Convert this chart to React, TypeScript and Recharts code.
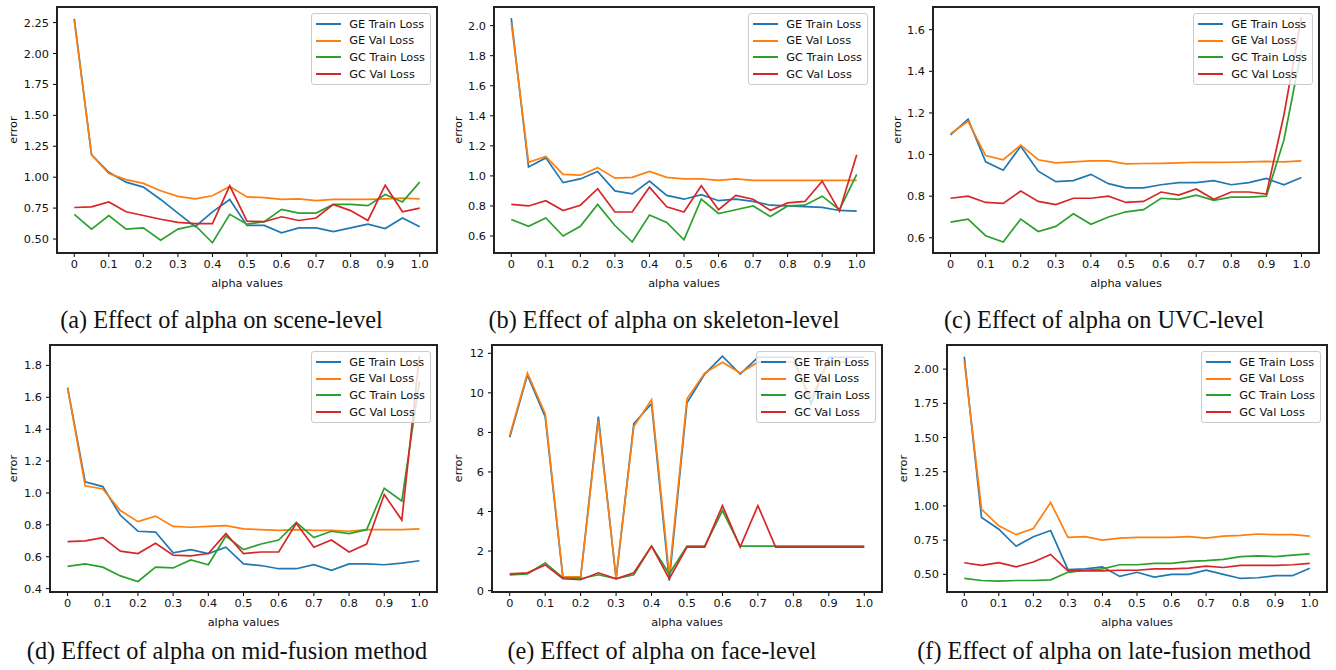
import { LineChart, Line, XAxis, YAxis, Legend } from 'recharts';

const alpha = [0, 0.05, 0.1, 0.15, 0.2, 0.25, 0.3, 0.35, 0.4, 0.45, 0.5, 0.55, 0.6, 0.65, 0.7, 0.75, 0.8, 0.85, 0.9, 0.95, 1.0];
const xTicks = [0, 0.1, 0.2, 0.3, 0.4, 0.5, 0.6, 0.7, 0.8, 0.9, 1.0];
const seriesNames = ['GE Train Loss', 'GE Val Loss', 'GC Train Loss', 'GC Val Loss'];
const seriesColors = ['#1f77b4', '#ff7f0e', '#2ca02c', '#d62728'];

// (a) scene-level
const sceneGeTrain = [2.28, 1.18, 1.04, 0.96, 0.92, 0.82, 0.71, 0.6, 0.72, 0.82, 0.61, 0.61, 0.55, 0.59, 0.59, 0.56, 0.59, 0.62, 0.585, 0.67, 0.6];
const sceneGeVal = [2.27, 1.18, 1.03, 0.98, 0.95, 0.89, 0.845, 0.825, 0.85, 0.925, 0.84, 0.835, 0.82, 0.825, 0.81, 0.82, 0.82, 0.82, 0.825, 0.83, 0.825];
const sceneGcTrain = [0.7, 0.58, 0.69, 0.58, 0.59, 0.49, 0.58, 0.61, 0.47, 0.7, 0.62, 0.64, 0.74, 0.71, 0.71, 0.78, 0.78, 0.77, 0.86, 0.8, 0.96];
const sceneGcVal = [0.755, 0.76, 0.8, 0.72, 0.69, 0.66, 0.635, 0.625, 0.625, 0.93, 0.645, 0.64, 0.68, 0.65, 0.67, 0.78, 0.73, 0.65, 0.935, 0.72, 0.75];
const sceneTicks = [0.5, 0.75, 1.0, 1.25, 1.5, 1.75, 2.0, 2.25];

// (b) skeleton-level
const skelGeTrain = [2.05, 1.06, 1.12, 0.955, 0.98, 1.03, 0.9, 0.88, 0.965, 0.87, 0.845, 0.875, 0.835, 0.845, 0.83, 0.805, 0.8, 0.795, 0.79, 0.77, 0.765];
const skelGeVal = [2.02, 1.09, 1.13, 1.01, 1.005, 1.055, 0.985, 0.99, 1.03, 0.99, 0.98, 0.98, 0.97, 0.98, 0.97, 0.97, 0.97, 0.97, 0.97, 0.97, 0.97];
const skelGcTrain = [0.71, 0.665, 0.72, 0.6, 0.665, 0.81, 0.67, 0.56, 0.74, 0.69, 0.575, 0.845, 0.75, 0.775, 0.8, 0.73, 0.8, 0.805, 0.865, 0.775, 1.01];
const skelGcVal = [0.81, 0.8, 0.835, 0.77, 0.805, 0.915, 0.76, 0.76, 0.925, 0.795, 0.76, 0.935, 0.775, 0.87, 0.845, 0.77, 0.82, 0.83, 0.965, 0.765, 1.14];
const skelTicks = [0.6, 0.8, 1.0, 1.2, 1.4, 1.6, 1.8, 2.0];

// (c) UVC-level
const uvcGeTrain = [1.095, 1.17, 0.965, 0.925, 1.04, 0.92, 0.87, 0.875, 0.905, 0.86, 0.84, 0.84, 0.855, 0.865, 0.865, 0.875, 0.855, 0.865, 0.885, 0.855, 0.89];
const uvcGeVal = [1.1, 1.16, 0.995, 0.975, 1.045, 0.975, 0.96, 0.965, 0.97, 0.97, 0.955, 0.957, 0.958, 0.96, 0.963, 0.962, 0.963, 0.965, 0.967, 0.965, 0.97];
const uvcGcTrain = [0.675, 0.69, 0.61, 0.58, 0.69, 0.63, 0.655, 0.715, 0.665, 0.7, 0.725, 0.735, 0.79, 0.785, 0.805, 0.78, 0.795, 0.795, 0.8, 1.07, 1.5];
const uvcGcVal = [0.79, 0.8, 0.77, 0.765, 0.825, 0.775, 0.76, 0.79, 0.79, 0.8, 0.77, 0.775, 0.82, 0.805, 0.835, 0.785, 0.82, 0.82, 0.81, 1.19, 1.66];
const uvcTicks = [0.6, 0.8, 1.0, 1.2, 1.4, 1.6];

// (d) mid-fusion
const midGeTrain = [1.66, 1.07, 1.04, 0.86, 0.76, 0.755, 0.625, 0.645, 0.62, 0.66, 0.555, 0.545, 0.525, 0.525, 0.55, 0.515, 0.555, 0.555, 0.55, 0.56, 0.575];
const midGeVal = [1.66, 1.045, 1.025, 0.89, 0.82, 0.855, 0.79, 0.785, 0.79, 0.795, 0.775, 0.77, 0.765, 0.77, 0.765, 0.765, 0.76, 0.77, 0.77, 0.77, 0.775];
const midGcTrain = [0.54, 0.555, 0.535, 0.48, 0.445, 0.535, 0.53, 0.58, 0.55, 0.73, 0.645, 0.68, 0.705, 0.815, 0.72, 0.76, 0.745, 0.77, 1.03, 0.95, 1.7];
const midGcVal = [0.695, 0.7, 0.72, 0.635, 0.62, 0.685, 0.61, 0.605, 0.62, 0.745, 0.62, 0.63, 0.63, 0.81, 0.66, 0.705, 0.63, 0.68, 0.99, 0.83, 1.86];
const midTicks = [0.4, 0.6, 0.8, 1.0, 1.2, 1.4, 1.6, 1.8];

// (e) face-level
const faceGeTrain = [7.75, 10.9, 8.8, 0.65, 0.65, 8.8, 0.6, 8.45, 9.45, 0.5, 9.5, 10.95, 11.85, 10.95, 11.8, 11.8, 11.8, 9.45, 11.8, 11.8, 11.8];
const faceGeVal = [7.85, 11.0, 8.95, 0.7, 0.7, 8.6, 0.65, 8.3, 9.65, 0.8, 9.7, 11.0, 11.55, 11.0, 11.55, 11.55, 11.55, 9.75, 11.55, 11.55, 11.55];
const faceGcTrain = [0.8, 0.85, 1.4, 0.65, 0.6, 0.8, 0.6, 0.8, 2.25, 0.85, 2.25, 2.25, 4.05, 2.25, 2.25, 2.25, 2.25, 2.25, 2.25, 2.25, 2.25];
const faceGcVal = [0.85, 0.9, 1.3, 0.6, 0.55, 0.9, 0.6, 0.9, 2.25, 0.6, 2.2, 2.2, 4.3, 2.2, 4.3, 2.2, 2.2, 2.2, 2.2, 2.2, 2.2];
const faceTicks = [0, 2, 4, 6, 8, 10, 12];

// (f) late-fusion
const lateGeTrain = [2.09, 0.915, 0.83, 0.705, 0.775, 0.82, 0.535, 0.54, 0.555, 0.485, 0.515, 0.48, 0.5, 0.5, 0.53, 0.5, 0.47, 0.475, 0.49, 0.49, 0.545];
const lateGeVal = [2.06, 0.975, 0.855, 0.79, 0.835, 1.025, 0.77, 0.775, 0.75, 0.765, 0.77, 0.77, 0.77, 0.775, 0.765, 0.78, 0.785, 0.795, 0.79, 0.79, 0.78];
const lateGcTrain = [0.47, 0.455, 0.45, 0.455, 0.455, 0.46, 0.515, 0.53, 0.54, 0.57, 0.57, 0.58, 0.58, 0.595, 0.6, 0.61, 0.63, 0.635, 0.63, 0.64, 0.65];
const lateGcVal = [0.585, 0.565, 0.585, 0.555, 0.59, 0.645, 0.525, 0.525, 0.525, 0.53, 0.53, 0.54, 0.54, 0.545, 0.56, 0.55, 0.565, 0.565, 0.565, 0.57, 0.58];
const lateTicks = [0.5, 0.75, 1.0, 1.25, 1.5, 1.75, 2.0];

const captions = [
  '(a) Effect of alpha on scene-level',
  '(b) Effect of alpha on skeleton-level',
  '(c) Effect of alpha on UVC-level',
  '(d) Effect of alpha on mid-fusion method',
  '(e) Effect of alpha on face-level',
  '(f) Effect of alpha on late-fusion method',
];

const AXW = 50;
const PAD = 2;
const XAH = 40;
const FONT = '"DejaVu Sans", sans-serif';
const XDOMAIN: [number, number] = [-0.05, 1.05];

type PanelDef = {
  series: number[][];
  ticks: number[];
  domain: [number, number];
  digits: number;
  box: [number, number, number, number]; // left, top, right, bottom
  labelOffset: number;
  caption: number; // caption centre x
  captionTop: number;
};

const panels: PanelDef[] = [
  { series: [sceneGeTrain, sceneGeVal, sceneGcTrain, sceneGcVal], ticks: sceneTicks, domain: [0.387, 2.376], digits: 2, box: [57, 7, 437, 253], labelOffset: 6, caption: 221.5, captionTop: 306.5 },
  { series: [skelGeTrain, skelGeVal, skelGcTrain, skelGcVal], ticks: skelTicks, domain: [0.487, 2.124], digits: 1, box: [494, 7, 874, 253], labelOffset: 14, caption: 664, captionTop: 306.5 },
  { series: [uvcGeTrain, uvcGeVal, uvcGcTrain, uvcGcVal], ticks: uvcTicks, domain: [0.527, 1.709], digits: 1, box: [933, 7, 1319, 253], labelOffset: 14, caption: 1104, captionTop: 306.5 },
  { series: [midGeTrain, midGeVal, midGcTrain, midGcVal], ticks: midTicks, domain: [0.379, 1.928], digits: 1, box: [50, 345, 437, 592], labelOffset: 13, caption: 227, captionTop: 637.5 },
  { series: [faceGeTrain, faceGeVal, faceGcTrain, faceGcVal], ticks: faceTicks, domain: [-0.07, 12.42], digits: 0, box: [492, 345, 882, 592], labelOffset: 16, caption: 662, captionTop: 637.5 },
  { series: [lateGeTrain, lateGeVal, lateGcTrain, lateGcVal], ticks: lateTicks, domain: [0.371, 2.176], digits: 2, box: [947, 345, 1327, 592], labelOffset: 6, caption: 1114, captionTop: 637.5 },
];

const keys = ['geTrain', 'geVal', 'gcTrain', 'gcVal'];

const LegendBox = ({ payload }: any) => {
  const items = [...(payload || [])].sort((a: any, b: any) => seriesNames.indexOf(a.value) - seriesNames.indexOf(b.value));
  return (
    <div style={{ border: '1px solid #cccccc', borderRadius: 3, background: 'rgba(255,255,255,0.8)', padding: '2px 5px 2px 4px', fontFamily: FONT, fontSize: 11.3, color: '#111' }}>
      {items.map((p: any) => (
        <div key={p.value} style={{ display: 'flex', alignItems: 'center', height: 16.6, whiteSpace: 'nowrap' }}>
          <span style={{ display: 'inline-block', width: 25, height: 2, background: p.color, marginRight: 8 }} />
          {p.value}
        </div>
      ))}
    </div>
  );
};

function Panel({ p }: { p: PanelDef }) {
  const [left, top, right, bottom] = p.box;
  const w = right - left;
  const h = bottom - top;
  const data = alpha.map((a, i) => ({
    alpha: a,
    geTrain: p.series[0][i],
    geVal: p.series[1][i],
    gcTrain: p.series[2][i],
    gcVal: p.series[3][i],
  }));
  const tickStyle = { fill: '#111', fontSize: 11.3, fontFamily: FONT };
  return (
    <div style={{ position: 'absolute', left: left - AXW, top: top - PAD, width: AXW + w + PAD, height: h + PAD + XAH }}>
      <LineChart width={AXW + w + PAD} height={h + PAD + XAH} data={data} margin={{ top: PAD, right: PAD, bottom: 0, left: 0 }}>
        <XAxis
          type="number"
          dataKey="alpha"
          domain={XDOMAIN}
          ticks={xTicks}
          interval={0}
          tickFormatter={(v: number) => (v === 0 ? '0' : v.toFixed(1))}
          height={XAH}
          axisLine={false}
          tickSize={4}
          tickMargin={3}
          tickLine={{ stroke: '#000' }}
          tick={tickStyle}
          label={{ value: 'alpha values', position: 'insideBottom', offset: 6, fill: '#111', fontSize: 11.3, fontFamily: FONT }}
        />
        <YAxis
          type="number"
          domain={p.domain}
          ticks={p.ticks}
          interval={0}
          allowDataOverflow
          width={AXW}
          tickFormatter={(v: number) => v.toFixed(p.digits)}
          axisLine={false}
          tickSize={4}
          tickMargin={4}
          tickLine={{ stroke: '#000' }}
          tick={tickStyle}
          label={{ value: 'error', angle: -90, position: 'insideLeft', offset: p.labelOffset, fill: '#111', fontSize: 11.3, fontFamily: FONT, style: { textAnchor: 'middle' } }}
        />
        {keys.map((k, i) => (
          <Line key={k} type="linear" dataKey={k} name={seriesNames[i]} stroke={seriesColors[i]} strokeWidth={1.7} dot={false} activeDot={false} isAnimationActive={false} />
        ))}
        <Legend
          layout="horizontal"
          verticalAlign="middle"
          align="center"
          content={<LegendBox />}
          wrapperStyle={{ top: PAD + 6, right: PAD + 6, left: 'auto', width: 'auto' }}
        />
      </LineChart>
      {/* axes frame: the four spines */}
      <div
        style={{
          position: 'absolute',
          left: AXW - 1,
          top: PAD - 1,
          width: w + 2,
          height: h + 2,
          borderStyle: 'solid',
          borderColor: '#222',
          borderWidth: '2px',
          boxSizing: 'border-box',
          pointerEvents: 'none',
          zIndex: 5,
        }}
      />
    </div>
  );
}

export default function App() {
  return (
    <div style={{ position: 'absolute', left: 0, top: 0, width: 1336, height: 670, background: '#fff', overflow: 'hidden' }}>
      {panels.map((p, i) => (
        <div key={i}>
          <Panel p={p} />
          <div
            style={{
              position: 'absolute',
              left: p.caption - 250,
              top: p.captionTop,
              width: 500,
              textAlign: 'center',
              fontFamily: '"Liberation Serif", "Times New Roman", serif',
              fontSize: 24.3,
              lineHeight: '26px',
              color: '#111',
              whiteSpace: 'nowrap',
            }}
          >
            {captions[i]}
          </div>
        </div>
      ))}
    </div>
  );
}
